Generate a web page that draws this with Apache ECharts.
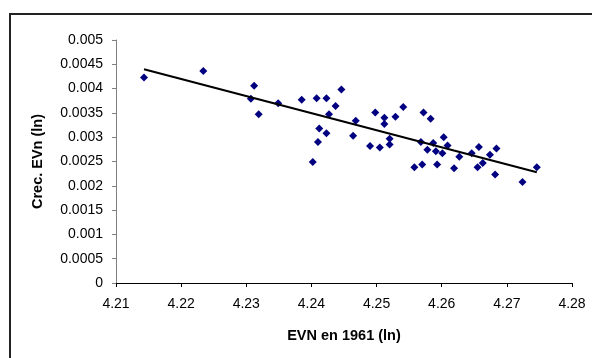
<!DOCTYPE html>
<html>
<head>
<meta charset="utf-8">
<script src="https://cdn.jsdelivr.net/npm/echarts@6/dist/echarts.min.js"></script>
<style>
  html, body { margin: 0; padding: 0; background: #fff; }
  #frame {
    position: absolute; left: 9px; top: 13px; width: 700px; height: 400px;
    border-top: 2px solid #222; border-left: 2px solid #222;
  }
  #chart { position: absolute; left: 0; top: 0; width: 592px; height: 358px; }
</style>
</head>
<body>
<div id="frame"></div>
<div id="chart"></div>
<script>
// EVN en 1961 (ln)
const evn1961 = [
  4.2143, 4.2234, 4.2312, 4.2307, 4.2319, 4.2349, 4.2385, 4.2408, 4.2423, 4.2446,
  4.2437, 4.2427, 4.2412, 4.2423, 4.2410, 4.2402, 4.2468, 4.2464, 4.2498, 4.2490,
  4.2505, 4.2512, 4.2512, 4.2529, 4.2541, 4.2520, 4.2520, 4.2572, 4.2583, 4.2568,
  4.2578, 4.2587, 4.2591, 4.2603, 4.2609, 4.2601, 4.2558, 4.2570, 4.2593, 4.2619,
  4.2627, 4.2646, 4.2657, 4.2684, 4.2674, 4.2663, 4.2655, 4.2682, 4.2724, 4.2746
];
// Crec. EVn (ln)
const crecEvn = [
  0.00423, 0.00436, 0.00406, 0.00379, 0.00347, 0.00370, 0.00377, 0.00380, 0.00380, 0.00398,
  0.00364, 0.00347, 0.00318, 0.00308, 0.00290, 0.00249, 0.00334, 0.00303, 0.00351, 0.00282,
  0.00279, 0.00340, 0.00327, 0.00342, 0.00362, 0.00297, 0.00285, 0.00351, 0.00338, 0.00290,
  0.00274, 0.00288, 0.00271, 0.00300, 0.00283, 0.00267, 0.00238, 0.00244, 0.00244, 0.00236,
  0.00260, 0.00267, 0.00280, 0.00277, 0.00264, 0.00247, 0.00238, 0.00223, 0.00208, 0.00238
];
// linear trend line end points
const trendX = [4.2143, 4.2746];
const trendY = [0.00440, 0.00228];

const points = evn1961.map((x, i) => [x, crecEvn[i]]);
const trend = trendX.map((x, i) => [x, trendY[i]]);

const font = 'Liberation Sans, Arial, sans-serif';
const myChart = echarts.init(document.getElementById('chart'));
const option = {
  animation: false,
  grid: { left: 116, top: 40, width: 456, height: 243 },
  xAxis: {
    type: 'value',
    min: 4.21,
    max: 4.28,
    interval: 0.01,
    name: 'EVN en 1961 (ln)',
    nameLocation: 'middle',
    nameGap: 45,
    nameTextStyle: { fontFamily: font, fontSize: 14.5, fontWeight: 'bold', color: '#000' },
    axisLine: { show: true, lineStyle: { color: '#000', width: 1 } },
    axisTick: { show: true, length: 4, lineStyle: { color: '#000' } },
    axisLabel: {
      fontFamily: font, fontSize: 14, color: '#000', margin: 14,
      formatter: v => v.toFixed(2),
    },
    splitLine: { show: false },
  },
  yAxis: {
    type: 'value',
    min: 0,
    max: 0.005,
    interval: 0.0005,
    name: 'Crec. EVn (ln)',
    nameLocation: 'middle',
    nameGap: 71,
    nameRotate: 90,
    nameTextStyle: { fontFamily: font, fontSize: 14.5, fontWeight: 'bold', color: '#000' },
    axisLine: { show: true, lineStyle: { color: '#808080', width: 1 } },
    axisTick: { show: true, length: 4, lineStyle: { color: '#808080' } },
    axisLabel: {
      fontFamily: font, fontSize: 14, color: '#000', margin: 13,
      formatter: v => String(parseFloat(v.toFixed(4))),
    },
    splitLine: { show: false },
  },
  series: [
    {
      type: 'scatter',
      data: points,
      symbol: 'diamond',
      symbolSize: 8,
      itemStyle: { color: '#000080', opacity: 1 },
      z: 2,
    },
    {
      type: 'line',
      data: trend,
      symbol: 'none',
      lineStyle: { color: '#000', width: 2 },
      z: 3,
    },
  ],
};
myChart.setOption(option);
</script>
</body>
</html>
